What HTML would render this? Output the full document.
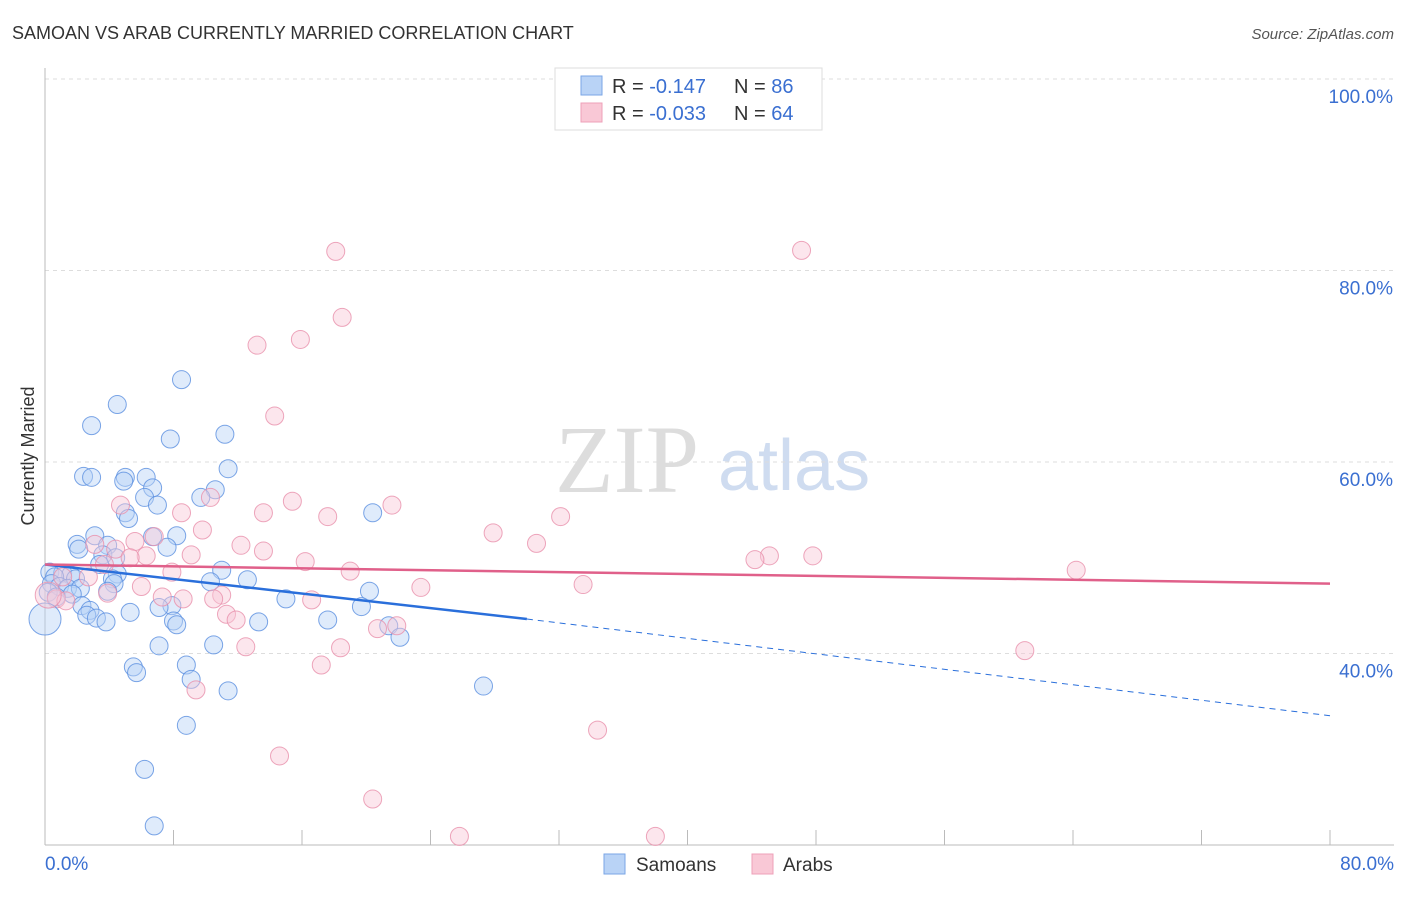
<!DOCTYPE html>
<html><head><meta charset="utf-8"><style>
body{margin:0;background:#fff;font-family:"Liberation Sans",sans-serif}
#c{position:relative;width:1406px;height:892px}
</style></head><body>
<div id="c">
<svg id="s" width="1406" height="892">
<text x="12" y="39" font-size="18" fill="#333">SAMOAN VS ARAB CURRENTLY MARRIED CORRELATION CHART</text>
<text x="1394" y="39" font-size="15" fill="#555" font-style="italic" text-anchor="end">Source: ZipAtlas.com</text>
<text x="34" y="456" font-size="18" fill="#333" text-anchor="middle" transform="rotate(-90 34 456)">Currently Married</text>
<text x="555" y="492" font-size="96" fill="#ddd" font-family="Liberation Serif,serif">ZIP</text>
<text x="718" y="490" font-size="72" fill="#cfdcf0">atlas</text>
<g id="grid"></g><g id="pts"></g><g id="lines"></g>
<g>
<rect x="555" y="68" width="267" height="62" fill="#fff" stroke="#ddd"/>
<rect x="581" y="76" width="21" height="19" fill="#b9d3f6" stroke="#7aa6e6"/>
<rect x="581" y="103" width="21" height="19" fill="#f9c8d6" stroke="#eea0b8"/>
<text x="612" y="93" font-size="20" fill="#333">R = <tspan fill="#3a6fd1"> -0.147</tspan><tspan x="734">N = </tspan><tspan fill="#3a6fd1">86</tspan></text>
<text x="612" y="120" font-size="20" fill="#333">R = <tspan fill="#3a6fd1">-0.033</tspan><tspan x="734">N = </tspan><tspan fill="#3a6fd1">64</tspan></text>
</g>
<g>
<rect x="604" y="854" width="21" height="20" fill="#b9d3f6" stroke="#7aa6e6"/>
<text x="636" y="871" font-size="19" fill="#333">Samoans</text>
<rect x="752" y="854" width="21" height="20" fill="#f9c8d6" stroke="#eea0b8"/>
<text x="783" y="871" font-size="19" fill="#333">Arabs</text>
</g>
</svg></div>
<script>
const blueX=[8.5,4.5,2.9,7.8,11.2,11.4,2.4,2.9,5.0,6.3,4.9,6.7,10.6,6.2,9.7,7.0,5.0,5.2,20.4,3.1,8.2,6.7,2.0,2.1,3.9,7.6,3.6,4.4,3.4,11.0,0.3,1.1,1.6,0.6,4.5,1.9,4.2,12.6,10.3,0.4,0.9,4.3,1.4,2.2,0.2,3.9,1.7,20.2,0.7,15.0,2.3,7.9,7.1,2.8,5.3,19.7,2.6,3.2,8.0,3.8,13.3,17.6,8.2,21.4,22.1,7.1,10.5,5.5,8.8,5.7,9.1,11.4,27.3,8.8,6.2,6.8];
const blueY=[68.6,66.0,63.8,62.4,62.9,59.3,58.5,58.4,58.4,58.4,58.0,57.3,57.1,56.3,56.3,55.5,54.7,54.1,54.7,52.3,52.3,52.2,51.4,50.9,51.3,51.1,50.3,50.0,49.3,48.7,48.5,48.4,48.2,48.0,48.3,47.8,47.8,47.7,47.5,47.3,47.0,47.3,46.8,46.8,46.4,46.5,46.2,46.5,45.9,45.7,45.0,45.0,44.8,44.5,44.3,44.9,44.0,43.7,43.4,43.3,43.3,43.5,43.0,42.9,41.7,40.8,40.9,38.6,38.8,38.0,37.3,36.1,36.6,32.5,27.9,22.0];
const pinkX=[18.1,47.1,18.5,13.2,15.9,14.3,4.7,10.3,15.4,21.6,8.5,13.6,17.6,32.1,27.9,9.8,6.8,3.1,5.6,12.2,30.6,4.4,13.6,9.1,6.3,5.3,45.1,44.2,47.8,16.2,3.7,19.0,7.9,64.2,2.7,1.1,6.0,23.4,33.5,3.9,7.3,11.0,8.6,10.5,16.6,0.7,1.3,11.3,11.9,20.7,21.9,18.4,12.5,17.2,61.0,9.4,34.4,14.6,20.4,25.8,38.0];
const pinkY=[82.0,82.1,75.1,72.2,72.8,64.8,55.5,56.3,55.9,55.5,54.7,54.7,54.3,54.3,52.6,52.9,52.2,51.4,51.7,51.3,51.5,50.9,50.7,50.3,50.2,50.0,50.2,49.8,50.2,49.6,49.3,48.6,48.5,48.7,48.0,48.0,47.0,46.9,47.2,46.3,45.9,46.1,45.7,45.7,45.6,45.7,45.5,44.1,43.5,42.6,42.9,40.6,40.7,38.8,40.3,36.2,32.0,29.3,24.8,20.9,20.9];
const bigBlue=[[0,43.6]], bigPink=[[0.2,46.1]];
const yTicks=[40,60,80,100];
const blueTrend=[[0,49.3],[30,43.6],[80,33.5]];
const pinkTrend=[[0,49.3],[80,47.3]];
const X=v=>45+v*1285/80, Y=v=>845-(v-20)*9.575;
const NS="http://www.w3.org/2000/svg";
function mk(t,a,p){const e=document.createElementNS(NS,t);for(const k in a)e.setAttribute(k,a[k]);p.appendChild(e);return e;}
const g=document.getElementById('grid');
yTicks.forEach(v=>{const l=mk('line',{x1:45,x2:1394,y1:Y(v),y2:Y(v),stroke:'#ddd','stroke-dasharray':'4,4'},g);


const t=mk('text',{x:1393,y:Y(v)+24,'font-size':19,fill:'#3a6fd1','text-anchor':'end'},g);t.textContent=v.toFixed(1)+'%';

});
const ax=mk('line',{x1:45,x2:45,y1:68,y2:845,stroke:'#bbb'},g);


const bx=mk('line',{x1:45,x2:1394,y1:845,y2:845,stroke:'#bbb'},g);


for(let i=1;i<=10;i++){const tk=mk('line',{x1:X(i*8),x2:X(i*8),y1:830,y2:845,stroke:'#bbb'},g);

}
[[0,'0.0%','start',45],[80,'80.0%','end',1394]].forEach(d=>{const t=mk('text',{x:d[3],y:870,'font-size':19,fill:'#3a6fd1','text-anchor':d[2]},g);t.textContent=d[1];

});
const P=document.getElementById('pts');
function dots(xs,ys,fill,stroke,name,r){xs.forEach((x,i)=>{const c=mk('circle',{cx:X(x),cy:Y(ys[i]),r:r,fill:fill,'fill-opacity':0.45,stroke:stroke,'stroke-opacity':0.8,'stroke-width':1},P);

});}
dots(blueX,blueY,'#b9d3f6','#5a8fe0','samoan-point',9);
dots(pinkX,pinkY,'#f9c8d6','#e890ab','arab-point',9);
dots(bigBlue.map(d=>d[0]),bigBlue.map(d=>d[1]),'#b9d3f6','#5a8fe0','samoan-point-large',16);
dots(bigPink.map(d=>d[0]),bigPink.map(d=>d[1]),'#f9c8d6','#e890ab','arab-point-large',13);
const L=document.getElementById('lines');
const b1=mk('line',{x1:X(blueTrend[0][0]),y1:Y(blueTrend[0][1]),x2:X(blueTrend[1][0]),y2:Y(blueTrend[1][1]),stroke:'#2a6fdb','stroke-width':2.5},L);


const b2=mk('line',{x1:X(blueTrend[1][0]),y1:Y(blueTrend[1][1]),x2:X(blueTrend[2][0]),y2:Y(blueTrend[2][1]),stroke:'#2a6fdb','stroke-width':1,'stroke-dasharray':'6,5'},L);


const p1=mk('line',{x1:X(pinkTrend[0][0]),y1:Y(pinkTrend[0][1]),x2:X(pinkTrend[1][0]),y2:Y(pinkTrend[1][1]),stroke:'#e0608a','stroke-width':2.5},L);


</script>
</body></html>
